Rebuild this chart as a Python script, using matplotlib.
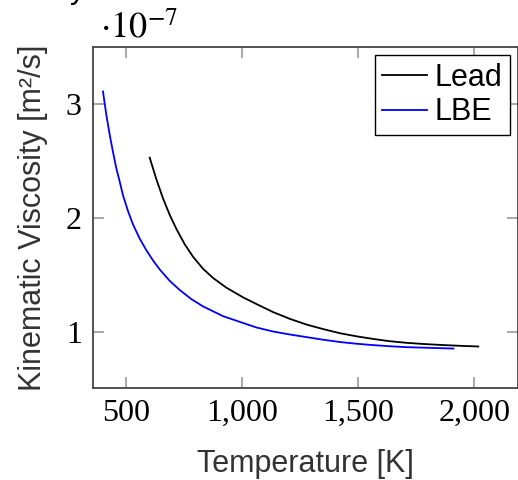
import matplotlib.pyplot as plt
from matplotlib.ticker import FuncFormatter

# viscosity values in units of 1e-7 m^2/s
lead_T = [602, 631, 659, 688, 717, 753, 789, 832, 875, 932, 1004, 1063, 1134, 1206,
          1278, 1350, 1422, 1493, 1565, 1637, 1709, 1780, 1852, 1938, 2017]
lead_nu = [2.53, 2.34, 2.175, 2.03, 1.905, 1.77, 1.66, 1.555, 1.475, 1.39, 1.305, 1.245, 1.175,
           1.116, 1.066, 1.026, 0.99, 0.963, 0.94, 0.92, 0.906, 0.896, 0.888, 0.88, 0.874]

lbe_T = [401, 415, 430, 444, 458, 473, 487, 509, 530, 559, 587, 616, 645, 688, 731, 781,
         832, 918, 1004, 1063, 1134, 1206, 1278, 1350, 1422, 1493, 1565, 1637, 1709, 1809, 1910]
lbe_nu = [3.11, 2.91, 2.73, 2.58, 2.44, 2.32, 2.20, 2.06, 1.945, 1.82, 1.72, 1.63, 1.55, 1.45,
          1.37, 1.29, 1.225, 1.14, 1.08, 1.04, 1.005, 0.979, 0.956, 0.933, 0.913, 0.898, 0.886,
          0.876, 0.868, 0.862, 0.856]

xticks = [500, 1000, 1500, 2000]
yticks = [1, 2, 3]

sans = 'Liberation Sans'
serif = 'Liberation Serif'
fs = 22

fig = plt.figure(figsize=(5.18, 4.8), dpi=100)
ax = fig.add_axes([93 / 518, 92 / 480, 425 / 518, 341 / 480])

ax.plot(lead_T, lead_nu, color='black', lw=1.3, label='Lead')
ax.plot(lbe_T, lbe_nu, color='blue', lw=1.3, label='LBE')

ax.set_xlim(358, 2188)
ax.set_ylim(0.51, 3.50)
ax.set_xticks(xticks)
ax.set_yticks(yticks)
ax.xaxis.set_major_formatter(FuncFormatter(lambda v, p: f'{v:,.0f}'))
ax.yaxis.set_major_formatter(FuncFormatter(lambda v, p: f'{v:.0f}'))
ax.tick_params(direction='in', length=8, width=1.2, color='#999999',
               top=True, right=True, labelsize=23, pad=8)
for lab in ax.get_xticklabels() + ax.get_yticklabels():
    lab.set_fontfamily(serif)
for s in ax.spines.values():
    s.set_color('#444444')
    s.set_linewidth(1.3)

ax.set_xlabel('Temperature [K]', fontsize=fs, fontfamily=sans, color='#333333', labelpad=15)
ax.set_ylabel('Kinematic Viscosity [m²/s]', fontsize=fs, fontfamily=sans, color='#333333', labelpad=13)

# multiplier above the axis
fig.text(100 / 518, 1 - 27 / 480, r'$\cdot10^{-7}$', fontsize=26, va='center', ha='left',
         math_fontfamily='stix')
# cut-off title descender at the top
fig.text(70 / 518, 1 + 2 / 480, 'y', fontsize=fs, fontfamily=sans, va='baseline')

leg = ax.legend(loc='upper right', prop={'family': sans, 'size': fs}, fancybox=False,
                edgecolor='black', framealpha=1, borderaxespad=0.27, handlelength=1.45,
                handletextpad=0.25, borderpad=0.25, labelspacing=0.15)
leg.get_frame().set_linewidth(1.0)

fig.savefig('out.png', dpi=100)
